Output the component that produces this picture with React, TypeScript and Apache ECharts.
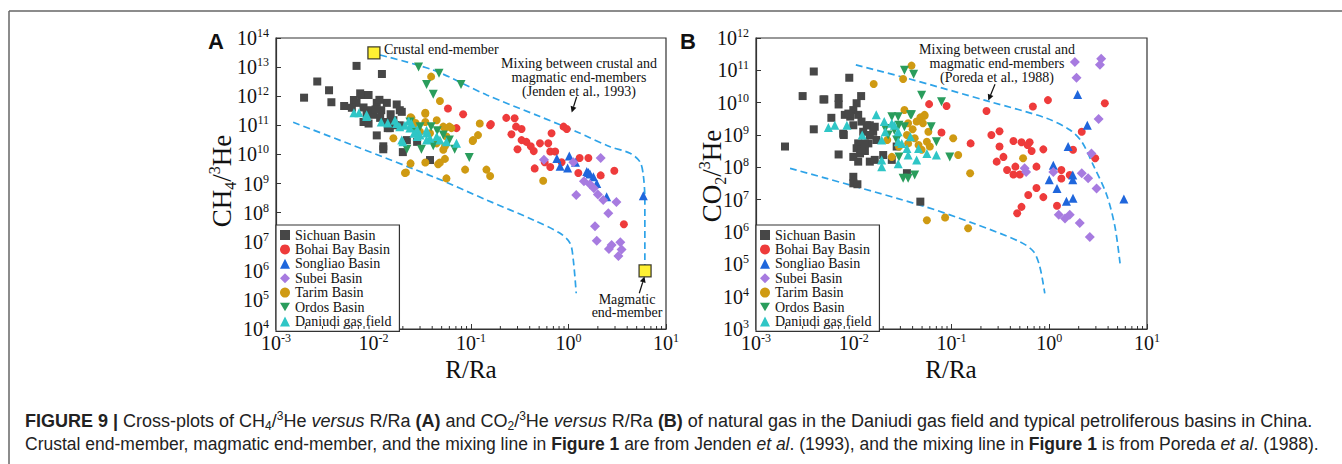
import React, { useEffect, useRef } from "react";
import * as echarts from "echarts";

const SERIF = "Liberation Serif";
const SANS = "Liberation Sans";
const CAP = "Liberation Sans";

const basinNames = ["Sichuan Basin", "Bohai Bay Basin", "Songliao Basin", "Subei Basin", "Tarim Basin", "Ordos Basin", "Daniudi gas field"];
const basinColors = ["#474747", "#ee3b3b", "#1f66dc", "#a77be0", "#cf9a12", "#2a9d5c", "#2fc6c6"];
const basinSymbols = ["rect", "circle", "triangle", "diamond", "circle", "triangle", "triangle"];
const basinRotate = [0, 0, 0, 0, 0, 180, 0];
const basinSizes = [8, 8, 9, 10, 8, 9, 9];

// Panel A: CH4/3He vs R/Ra
const aSichuan = [[1.94e-3,8.9e11],[2.65e-3,3.2e12],[3.5e-3,1.6e12],[3.7e-3,6.2e11],[5e-3,4.6e11],[6.7e-3,1.1e13],[1.22e-2,5.8e12],[6.3e-3,7.4e11],[6.7e-3,5.9e11],[7.6e-3,1.1e12],[8.9e-3,1.1e12],[7.3e-3,1.25e12],[7.9e-3,4.1e11],[9.2e-3,3.3e11],[1.08e-2,5.9e11],[1.2e-2,3.3e11],[1.37e-2,5.9e11],[1.73e-2,5.2e11],[1.95e-2,2.9e11],[9.9e-3,2.3e11],[1.17e-2,1.8e11],[1.37e-2,1.3e11],[1.66e-2,1.0e11],[7.9e-3,1.3e11],[8.9e-3,1.15e11],[1.08e-2,4.5e10],[1.26e-2,1.5e10],[2.0e-2,1.2e10],[1.47e-2,8e10],[1.86e-2,1.0e11],[8.5e-3,2.5e11],[1.86e-2,3.3e11],[1.6e-2,1.5e11],[1.4e-2,8e10],[1.26e-2,1.9e10],[2.2e-2,3.1e10],[2.8e-2,2.7e10],[3.8e-2,6.4e9],[6.0e-3,4.0e11],[1.05e-2,3.5e11],[1.15e-2,7.5e11],[1.5e-2,2.4e11]];
const aBohai = [[5.8e-2,3.8e11],[8.3e-2,2.4e11],[0.157,1.0e11],[7.1e-2,8e10],[0.23,1.8e11],[0.28,1.75e11],[0.29,9e10],[0.33,7.5e10],[0.26,4.9e10],[0.33,3.1e10],[0.37,2.7e10],[0.41,1.9e10],[0.30,1.5e10],[0.44,1.3e10],[0.51,2.4e10],[0.62,2.4e10],[0.67,5.3e10],[0.65,1.25e10],[0.73,1.25e10],[0.57,5.4e9],[0.89,9e10],[0.96,7.5e10],[0.85,5.4e9],[0.45,3.3e9],[0.65,3.7e9],[1.3,7.5e9],[1.6,7.5e9],[1.26,2.3e9],[2.14,1.9e9],[2.95,2.75e9],[3.7,4e7],[0.16,1.1e11]];
const aSongliao = [[1.02,8.8e9],[0.76,7.2e9],[0.82,3.9e9],[0.98,3.4e9],[1.18,5.4e9],[1.54,2.6e9],[1.66,2.1e9],[1.8,1.7e9],[1.95,1.0e9],[2.46,3.5e8],[5.85,3.8e8],[1.6,2.4e9]];
const aSubei = [[0.56,6.6e9],[1.12,5.4e9],[2.14,7.5e9],[1.44,1.2e9],[1.66,9.4e8],[1.82,6.8e8],[2.0,4.2e8],[2.27,2.7e8],[3.1,2.3e8],[1.2,4.0e8],[2.56,9.5e7],[1.87,3.4e7],[1.95,1.08e7],[2.77,7.7e6],[2.6,5.6e6],[3.4,9.6e6],[3.5,5.4e6],[3.25,3.2e6]];
const aTarim = [[1.6e-2,3.6e10],[2.15e-2,2.4e9],[2.4e-2,4.9e9],[2.4e-2,1.9e11],[3.4e-2,2.7e11],[3.9e-2,4.7e12],[3.4e-2,5.3e9],[4.8e-2,6.8e11],[3.4e-2,2.5e11],[2.45e-2,1.8e11],[3.4e-2,1.3e11],[4.45e-2,1.5e11],[3.8e-2,5.3e10],[5.4e-2,8e10],[6.3e-2,8e10],[4.45e-2,2.4e10],[5.6e-2,4.1e10],[5.4e-2,1.9e10],[2.1e-2,2.3e9],[4.6e-2,4.6e9],[5.4e-2,7.0e9],[5.6e-2,1.5e9],[8.7e-2,3.0e9],[0.144,3.0e9],[0.157,1.8e9],[0.105,3.1e10],[0.123,1.15e11],[0.118,4.6e10],[0.104,2.9e10],[0.55,1.25e9],[5.2e-2,9e10],[6e-2,9e10],[5.2e-2,1.45e10],[4.8e-2,5.3e9],[2.7e-2,1.2e11],[3.0e-2,6.0e10]];
const aOrdos = [[2.9e-2,1e13],[4.1e-2,1.16e12],[4.7e-2,6.1e12],[7.9e-2,2.5e12],[9.6e-2,7.9e9],[3.5e-2,2.5e12],[2.2e-2,1.5e10],[3.1e-2,1.5e10],[2.36e-2,1.3e11],[3.0e-2,9e10],[3.9e-2,9e10],[5.2e-2,4.6e10],[6e-2,3.1e10],[6.8e-2,1.5e10],[4.1e-2,2.0e10],[2.7e-2,6e10],[4.5e-2,6.5e10]];
const aDaniudi = [[6.3e-3,2.7e11],[7.1e-3,2.7e11],[8.5e-3,2.0e11],[1.2e-2,1.3e11],[1.73e-2,1.15e11],[2.0e-2,2.7e10],[2.6e-2,5.3e10],[3.5e-2,6.8e10],[8.5e-3,2.3e11],[1.66e-2,1.5e11],[1.86e-2,8.9e10],[2.45e-2,1.15e11],[2.36e-2,8e10],[2.8e-2,7e10],[3.0e-2,4.6e10],[3.5e-2,5.4e10],[3.8e-2,3.6e10],[4.45e-2,4.1e10],[4.8e-2,3.1e10],[5.6e-2,2.7e10],[7.1e-2,2.4e10],[1.95e-2,3.1e10],[3.5e-2,3.1e10],[2.8e-2,4.1e10],[2.1e-2,1.0e11],[1.4e-2,1.2e11],[2.3e-2,1.4e11]];
const aCrustalEnd = [[1.01e-2, 3.1e13]];
const aMagmaticEnd = [[6.1, 1e6]];
const aUpperMix = [[1.17e-2,2.6e13],[4.1e-2,7.9e12],[0.145,1.1e12],[0.51,2.0e11],[1.21,6.0e10],[2.67,1.84e10],[4.28,1.1e10],[5.4,5.6e9],[5.85,1.95e9],[6.07,2.7e8],[6.07,1.6e6]];
const aLowerMix = [[1.5e-3,1.27e11],[4.1e-2,1.7e9],[0.145,2.7e8],[0.435,5.6e7],[0.82,1.94e7],[1.04,8.8e6],[1.12,2.35e6],[1.2,1.7e5]];

// Panel B: CO2/3He vs R/Ra
const bSichuan = [[1.98e-3,4.4e8],[3.9e-3,9.2e10],[3.0e-3,1.6e10],[3.9e-3,1.5e9],[5e-3,1.26e10],[7e-3,1.4e10],[7e-3,8.8e9],[9e-3,5.9e10],[1.19e-2,1.6e10],[5.9e-3,3.4e9],[7.9e-3,1e9],[7e-3,2.5e8],[9.9e-3,5.9e9],[1.07e-2,9.6e9],[8.1e-3,4.2e9],[9.2e-3,3.7e9],[1.11e-2,4.2e9],[1.2e-2,2.6e9],[9.9e-3,2.0e9],[1.25e-2,1.26e9],[1.46e-2,2.0e9],[1.58e-2,1.26e9],[1.7e-2,7e8],[1.11e-2,5.5e8],[1.41e-2,5.5e8],[1.07e-2,3.9e8],[1.16e-2,2.7e8],[1.3e-2,3.2e8],[9.9e-3,2.1e8],[1.11e-2,1.5e8],[1.46e-2,1.5e8],[1.64e-2,1.7e8],[2.0e-2,2.4e8],[9.9e-3,5.1e7],[9.9e-3,3.2e7],[1.09e-2,3e7],[3.5e-2,6.6e7],[4.8e-2,8.7e6],[4.9e-3,1.26e10],[8.8e-3,4.6e9],[1.36e-2,2e9],[1.64e-2,1.8e9],[1.46e-2,1e9],[1.2e-2,3.5e8],[2.45e-2,1.7e8],[2.75e-2,4.4e8],[7.8e-3,1.1e9],[1.3e-2,5.5e8]];
const bBohai = [[5.9e-2,9e9],[8.9e-2,7.9e9],[7.9e-2,1.2e9],[0.157,5.5e8],[0.228,5.5e9],[0.256,1e9],[0.31,1.3e9],[0.31,4.4e8],[0.34,2.1e8],[0.29,1.5e8],[0.43,6.5e8],[0.52,6e8],[0.63,6e8],[0.6,4.9e8],[0.66,3.2e8],[0.87,3.6e8],[0.37,8.3e7],[0.45,1.05e8],[0.5,6e7],[0.43,6e7],[0.74,1.05e8],[0.74,2.3e7],[0.61,1.4e7],[0.52,6e6],[0.47,3.8e6],[0.87,1.2e7],[0.68,7.6e9],[0.97,1.2e10],[1.33,8.3e7],[1.33,4.5e7],[1.62,5.8e7],[1.75,3.5e8],[2.15,1.26e9],[2.95,1.9e8],[3.7,9.6e9],[1.2,6.5e6]];
const bSongliao = [[1.95,1.8e10],[2.45,2e9],[1.56,4.4e8],[1.1,1.16e8],[1.0,4.1e7],[1.2,2.2e7],[1.74,5.8e7],[1.74,4.1e7],[1.75,1.1e7],[1.5,9e6],[5.8,1.05e7]];
const bSubei = [[1.83,1.8e11],[1.9,5.9e10],[3.4,2.3e11],[3.3,1.5e11],[3.2,3.1e9],[2.7,2.7e8],[2.15,6.6e7],[2.5,4.6e7],[3.05,2.2e7],[1.1,7.2e7],[0.56,9.4e7],[0.58,7.2e7],[1.25,3.4e6],[1.45,2.6e6],[1.62,3.4e6],[2.05,1.9e6],[2.6,7e5]];
const bTarim = [[1.6e-2,3.8e10],[3.2e-2,5.4e10],[3.9e-2,1.4e11],[3.3e-2,5.9e9],[3.6e-2,2.3e9],[4.8e-2,3.5e9],[5.3e-2,3.9e9],[5.1e-2,2.3e9],[5.8e-2,1.26e9],[4.2e-2,7.9e8],[3.5e-2,1e9],[3.6e-2,5.5e8],[4.6e-2,4.9e8],[5.6e-2,6.2e8],[6e-2,4.4e8],[4.95e-2,3.5e8],[2.2e-2,7e8],[2.45e-2,2.1e8],[0.104,7.9e8],[0.117,2.4e8],[0.155,6.6e7],[2.9e-2,4.4e8],[0.54,1.9e8],[5.6e-2,2.3e6],[8.6e-2,2.8e6],[0.148,1.3e6],[5.3e-2,4.2e9],[4.0e-2,1.5e9],[4.4e-2,2.6e9]];
const bOrdos = [[4.95e-2,1.7e10],[7.9e-2,1.07e10],[2.1e-2,1.6e9],[2.45e-2,3.7e9],[2.85e-2,3.7e9],[2.25e-2,1e9],[2.75e-2,7e8],[2.6e-2,1.4e9],[2.9e-2,2e9],[3.8e-2,4.2e9],[3.3e-2,1.8e9],[6.2e-2,1.8e9],[7e-2,6.2e8],[9.6e-2,2.1e8],[3.2e-2,4.6e7],[3.6e-2,4.6e7],[4.2e-2,5.8e7],[2.9e-2,2.1e8],[4.1e-2,7.6e10],[3.3e-2,1.0e11],[3.9e-2,4.2e9]];
const bDaniudi = [[6.4e-3,2.0e9],[8.5e-3,2e9],[1.22e-2,1e9],[1.7e-2,4.2e9],[2.05e-2,2.6e9],[1.93e-2,1.7e8],[1.93e-2,1.05e8],[2.6e-2,2e9],[2.85e-2,6.2e8],[3.6e-2,2.4e8],[4.4e-2,1.7e8],[1.93e-2,7e8],[2.1e-2,1.26e9],[2.45e-2,2.3e9],[2.85e-2,1.26e9],[3.1e-2,5.5e8],[2.85e-2,1.3e8],[3.8e-2,8.8e8],[4.6e-2,3.8e8],[5.6e-2,2.7e8],[7e-2,2.4e8],[3.5e-2,3.8e8],[5.5e-3,1.7e9]];
const bUpperMix = [[1.05e-2,1.47e11],[3.5e-2,5.7e10],[0.248,1.07e10],[0.94,3.3e9],[1.63,1.43e9],[2.15,6.2e8],[2.82,1.17e8],[3.87,1.4e7],[4.7,1.46e6],[5.3,1.07e5]];
const bLowerMix = [[2.23e-3,9.3e7],[4.77e-2,6.8e6],[0.167,1.86e6],[0.5,5e5],[0.69,2.5e5],[0.8,8.5e4],[0.9,1.27e4]];

const xMinorTicks = [2e-3,3e-3,4e-3,5e-3,6e-3,7e-3,8e-3,9e-3,2e-2,3e-2,4e-2,5e-2,6e-2,7e-2,8e-2,9e-2,0.2,0.3,0.4,0.5,0.6,0.7,0.8,0.9,2,3,4,5,6,7,8,9];

const panelA = [aSichuan, aBohai, aSongliao, aSubei, aTarim, aOrdos, aDaniudi];
const panelB = [bSichuan, bBohai, bSongliao, bSubei, bTarim, bOrdos, bDaniudi];

function arrow(x1: number, y1: number, x2: number, y2: number) {
  const dx = x2 - x1, dy = y2 - y1;
  const L = Math.sqrt(dx * dx + dy * dy);
  const ux = dx / L, uy = dy / L;
  const hl = 6, hw = 3;
  const bx = x2 - ux * hl, by = y2 - uy * hl;
  return [
    { type: "line", shape: { x1, y1, x2: bx, y2: by }, style: { stroke: "#111", lineWidth: 1.2 } },
    { type: "polygon", shape: { points: [[x2, y2], [bx - uy * hw, by + ux * hw], [bx + uy * hw, by - ux * hw]] }, style: { fill: "#111" } },
  ];
}

const tickRich = {
  b: { fontSize: 20, lineHeight: 22, fontFamily: SERIF, color: "#111" },
  s: { fontSize: 12, lineHeight: 12, verticalAlign: "top", fontFamily: SERIF, color: "#111" },
};
const tickFmt = (v: number) => `{b|10}{s|${Math.round(Math.log10(v))}}`;

function xAxisFor(gridIndex: number) {
  return {
    type: "log", logBase: 10, gridIndex, min: 0.001, max: 10, interval: 1,
    axisLine: { show: true, lineStyle: { color: "#333", width: 1.2 } },
    axisTick: { show: true, inside: true, length: 5, lineStyle: { color: "#333" } },
    axisLabel: { formatter: tickFmt, rich: tickRich, fontSize: 20, fontFamily: SERIF, margin: 3, showMinLabel: true, showMaxLabel: true },
    splitLine: { show: false },
  };
}
function yAxisFor(gridIndex: number, min: number, max: number) {
  return {
    type: "log", logBase: 10, gridIndex, min, max, interval: 1,
    axisLine: { show: true, lineStyle: { color: "#333", width: 1.2 } },
    axisTick: { show: true, inside: true, length: 5, lineStyle: { color: "#333" } },
    axisLabel: { formatter: tickFmt, rich: tickRich, fontSize: 20, fontFamily: SERIF, margin: 7, showMinLabel: true, showMaxLabel: true },
    splitLine: { show: false },
  };
}

const legendData = basinNames.map((n, i) =>
  basinRotate[i] === 180 ? { name: n, icon: "path://M0,0L10,0L5,8.7Z" } : { name: n }
);

function legendFor(left: number) {
  return {
    data: legendData, orient: "vertical", left, top: 225, itemWidth: 10, itemHeight: 10, itemGap: 0.4,
    padding: [3, 8, 3, 4], borderColor: "#333", borderWidth: 1.2, backgroundColor: "#fff",
    selectedMode: false,
    textStyle: { fontFamily: SERIF, fontSize: 14, color: "#111", lineHeight: 14 },
  };
}

const supSub = {
  sub: { fontSize: 16, lineHeight: 16, verticalAlign: "bottom", fontFamily: SERIF, color: "#111" },
  sup: { fontSize: 16, lineHeight: 16, verticalAlign: "top", fontFamily: SERIF, color: "#111" },
};

function captionRich(fs: number) {
  return {
    b: { fontWeight: "bold", fontFamily: CAP, fontSize: fs, color: "#222" },
    i: { fontStyle: "italic", fontFamily: CAP, fontSize: fs, color: "#222" },
    g: { fontFamily: CAP, fontSize: fs, color: "#8a8a8a" },
    gi: { fontFamily: CAP, fontSize: fs, color: "#8a8a8a", fontStyle: "italic" },
    sub: { fontFamily: CAP, fontSize: 12, lineHeight: 12, verticalAlign: "bottom", color: "#222" },
    sup: { fontFamily: CAP, fontSize: 12, lineHeight: 12, verticalAlign: "top", color: "#222" },
  };
}

export default function App() {
  const ref = useRef<HTMLDivElement>(null);
  useEffect(() => {
    if (!ref.current) return;
    const chart = echarts.init(ref.current, null, { renderer: "svg" });
    const series: any[] = [];
    [panelA, panelB].forEach((panel, gi) => {
      panel.forEach((data, i) => {
        series.push({
          type: "scatter", name: basinNames[i], xAxisIndex: gi, yAxisIndex: gi, data,
          symbol: basinSymbols[i], symbolSize: basinSizes[i], symbolRotate: basinRotate[i],
          itemStyle: { color: basinColors[i], opacity: 1 }, z: 3,
        });
      });
    });
    const mixStyle = { color: "#2ea3e8", width: 1.7, type: [7, 4] };
    [[aUpperMix, 0], [aLowerMix, 0], [bUpperMix, 1], [bLowerMix, 1]].forEach(([d, gi]: any) => {
      series.push({ type: "line", data: d, xAxisIndex: gi, yAxisIndex: gi, showSymbol: false, smooth: 0.3, lineStyle: mixStyle, z: 2, silent: true });
    });
    series.push({
      type: "scatter", name: "end-members", xAxisIndex: 0, yAxisIndex: 0, data: [...aCrustalEnd, ...aMagmaticEnd],
      symbol: "rect", symbolSize: 12, itemStyle: { color: "#ffee00", borderColor: "#111", borderWidth: 1.3 }, z: 5,
    });
    [[0, 1e4], [1, 1e3]].forEach(([gi, ymin]) => {
      series.push({
        type: "custom", xAxisIndex: gi, yAxisIndex: gi, silent: true, z: 4,
        data: xMinorTicks.map((v) => [v, ymin]),
        renderItem: (params: any, api: any) => {
          const p = api.coord([api.value(0), api.value(1)]);
          return { type: "line", shape: { x1: p[0], y1: p[1], x2: p[0], y2: p[1] - 3 }, style: { stroke: "#333", lineWidth: 1 } };
        },
      });
    });

    const graphic: any[] = [
      { type: "line", shape: { x1: 9, y1: 11, x2: 1342, y2: 11 }, style: { stroke: "#666", lineWidth: 1.5 } },
      { type: "line", shape: { x1: 9, y1: 11, x2: 9, y2: 464 }, style: { stroke: "#666", lineWidth: 1.5 } },
      { type: "text", x: 216, y: 41, style: { text: "A", font: `bold 22px ${SANS}`, fill: "#111", align: "center", verticalAlign: "middle" } },
      { type: "text", x: 688, y: 41, style: { text: "B", font: `bold 22px ${SANS}`, fill: "#111", align: "center", verticalAlign: "middle" } },
      { type: "text", x: 471, y: 369, style: { text: "R/Ra", font: `25px ${SERIF}`, fill: "#111", align: "center", verticalAlign: "middle" } },
      { type: "text", x: 951, y: 369, style: { text: "R/Ra", font: `25px ${SERIF}`, fill: "#111", align: "center", verticalAlign: "middle" } },
      { type: "text", x: 222, y: 181, rotation: Math.PI / 2, style: { text: "CH{sub|4}/{sup|3}He", fontSize: 27, fontFamily: SERIF, lineHeight: 32, fill: "#111", align: "center", verticalAlign: "middle", rich: supSub } },
      { type: "text", x: 712, y: 176, rotation: Math.PI / 2, style: { text: "CO{sub|2}/{sup|3}He", fontSize: 27, fontFamily: SERIF, lineHeight: 32, fill: "#111", align: "center", verticalAlign: "middle", rich: supSub } },
      { type: "text", x: 384, y: 49, style: { text: "Crustal end-member", font: `14px ${SERIF}`, fill: "#111", align: "left", verticalAlign: "middle" } },
      { type: "text", x: 579, y: 77, style: { text: "Mixing between crustal and\nmagmatic end-members\n(Jenden et al., 1993)", font: `14px ${SERIF}`, lineHeight: 14, fill: "#111", align: "center", verticalAlign: "middle" } },
      { type: "text", x: 627, y: 305.5, style: { text: "Magmatic\nend-member", font: `14px ${SERIF}`, lineHeight: 13, fill: "#111", align: "center", verticalAlign: "middle" } },
      { type: "text", x: 997, y: 63, style: { text: "Mixing between crustal and\nmagmatic end-members\n(Poreda et al., 1988)", font: `14px ${SERIF}`, lineHeight: 14, fill: "#111", align: "center", verticalAlign: "middle" } },
      ...arrow(576.7, 96.7, 571.7, 112.5),
      ...arrow(639.3, 293.3, 644.5, 276.5),
      ...arrow(995, 84.3, 988.3, 100.5),
      { type: "text", x: 25, y: 421, style: {
        text: "{b|FIGURE 9 |} Cross-plots of CH{sub|4}/{sup|3}He {i|versus} R/Ra {b|(A)} and CO{sub|2}/{sup|3}He {i|versus} R/Ra {b|(B)} of natural gas in the Daniudi gas field and typical petroliferous basins in China.",
        fontSize: 18, fontFamily: CAP, fill: "#222", lineHeight: 22, align: "left", verticalAlign: "middle", rich: captionRich(18) } },
      { type: "text", x: 25, y: 444, style: {
        text: "Crustal end-member, magmatic end-member, and the mixing line in {b|Figure 1} are from {g|Jenden }{gi|et al}{g|. (1993)}, and the mixing line in {b|Figure 1} is from {g|Poreda }{gi|et al}{g|. (1988)}.",
        fontSize: 17.5, fontFamily: CAP, fill: "#222", lineHeight: 22, align: "left", verticalAlign: "middle", rich: captionRich(17.5) } },
    ];

    chart.setOption({
      animation: false,
      backgroundColor: "#fff",
      textStyle: { fontFamily: SERIF },
      grid: [
        { left: 276, top: 38, width: 390, height: 291, show: true, borderColor: "#333", borderWidth: 1.2, backgroundColor: "transparent" },
        { left: 756, top: 38, width: 391, height: 291, show: true, borderColor: "#333", borderWidth: 1.2, backgroundColor: "transparent" },
      ],
      xAxis: [xAxisFor(0), xAxisFor(1)],
      yAxis: [yAxisFor(0, 1e4, 1e14), yAxisFor(1, 1e3, 1e12)],
      legend: [legendFor(276), legendFor(756)],
      series,
      graphic,
    });
    return () => chart.dispose();
  }, []);
  return <div ref={ref} style={{ position: "absolute", left: 0, top: 0, width: 1342, height: 464 }} />;
}
